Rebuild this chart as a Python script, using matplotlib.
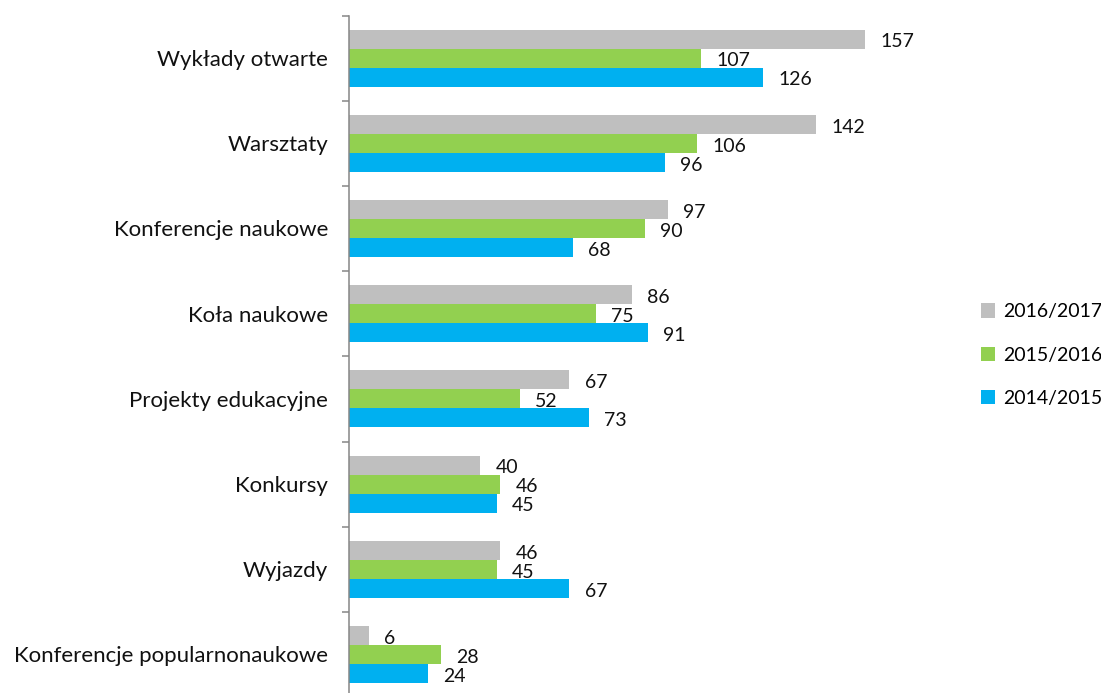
import matplotlib
matplotlib.use("Agg")
import matplotlib.pyplot as plt
from matplotlib.patches import Patch
import numpy as np

plt.rcParams['font.family'] = ['Lato', 'DejaVu Sans']

categories = ["Wykłady otwarte", "Warsztaty", "Konferencje naukowe", "Koła naukowe",
              "Projekty edukacyjne", "Konkursy", "Wyjazdy", "Konferencje popularnonaukowe"]
series_names = ["2016/2017", "2015/2016", "2014/2015"]
v2016 = [157, 142, 97, 86, 67, 40, 46, 6]
v2015 = [107, 106, 90, 75, 52, 46, 45, 28]
v2014 = [126, 96, 68, 91, 73, 45, 67, 24]
colors = ["#BFBFBF", "#92D050", "#00B0F0"]

W, H = 1101, 693
fig = plt.figure(figsize=(W / 100, H / 100), dpi=100)
xmax = 170
px_per_unit = 3.287
left = 349 / W
width = xmax * px_per_unit / W
top_px, cat_px = 15.5, 85.2
bottom_px = top_px + 8 * cat_px
ax = fig.add_axes([left, (H - bottom_px) / H, width, 8 * cat_px / H])

n = len(categories)
y = np.arange(n)
bh = 19 / cat_px
offsets = [-bh, 0, bh]
fs_val = 14
fs_cat = 16
for vals, off, col, name in zip([v2016, v2015, v2014], offsets, colors, series_names):
    ax.barh(y + off, vals, height=bh, color=col, label=name)
    for yi, v in zip(y, vals):
        ax.annotate(str(v), (v, yi + off), xytext=(11, -2), textcoords='offset points',
                    va='center', ha='left', fontsize=fs_val, color='#111111')

ax.set_xlim(0, xmax)
ax.set_ylim(n - 0.5, -0.5)
for s in ['top', 'right', 'bottom']:
    ax.spines[s].set_visible(False)
ax.spines['left'].set_color('#868686')
ax.spines['left'].set_linewidth(1.1)
ax.set_xticks([])
ax.set_yticks(np.arange(-0.5, n, 1.0))
ax.set_yticklabels([])
ax.tick_params(axis='y', which='major', length=5, width=1.1, color='#868686')
ax.set_yticks(y, minor=True)
ax.set_yticklabels(categories, minor=True, fontsize=fs_cat, color='#111111')
ax.tick_params(axis='y', which='minor', length=0, pad=15)

handles = [Patch(facecolor=c, edgecolor='none') for c in colors]
fig.legend(handles, series_names, loc='center left', bbox_to_anchor=(971 / W, 1 - 355 / H),
           frameon=False, fontsize=fs_val, handlelength=0.75, handleheight=0.75,
           handletextpad=0.4, labelspacing=1.35, borderpad=0)

fig.savefig("out.png", dpi=100)
